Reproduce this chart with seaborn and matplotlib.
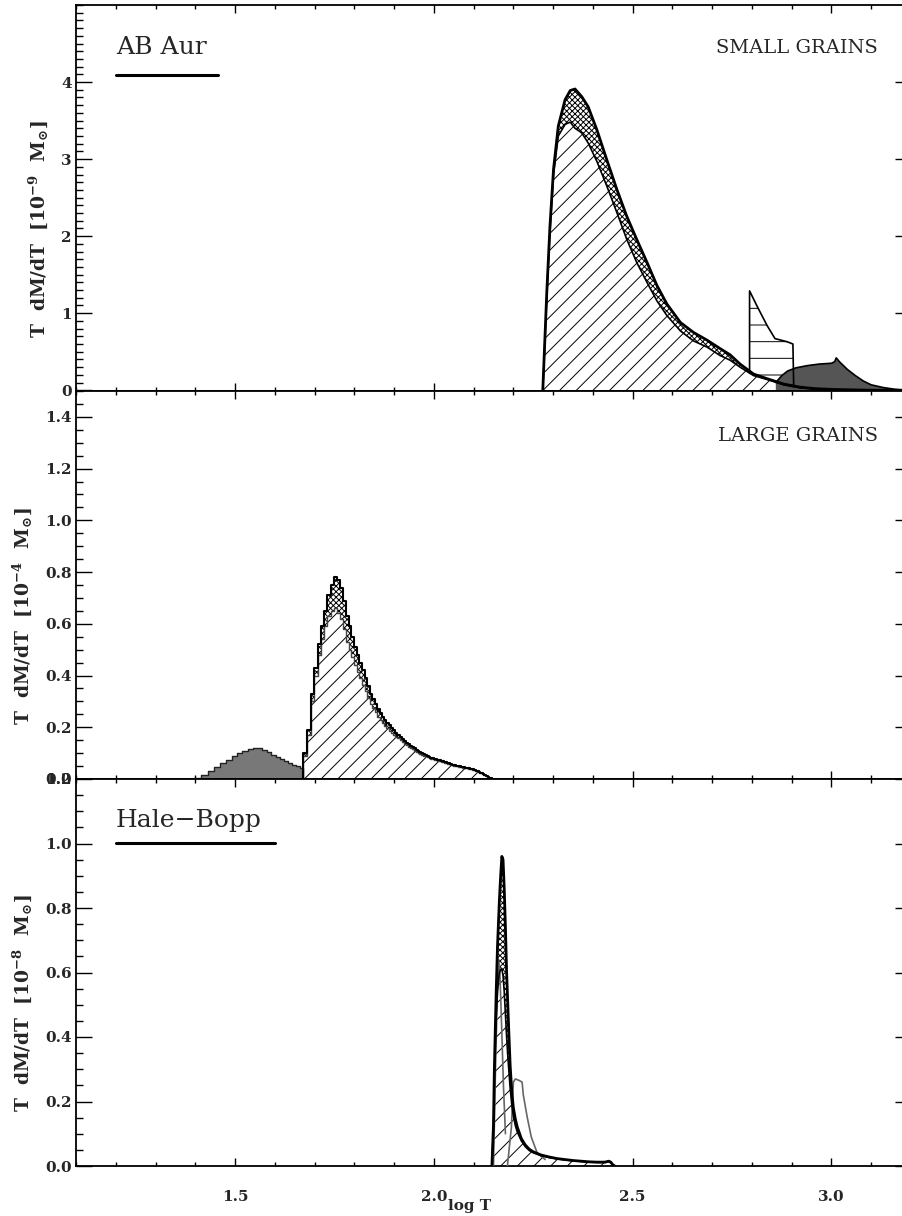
import numpy as np
import matplotlib
matplotlib.use("Agg")
import matplotlib.pyplot as plt
from matplotlib.ticker import MultipleLocator, FixedLocator, NullFormatter
import seaborn as sns

sns.set_theme(style="ticks")
plt.rcParams['font.family'] = ['DejaVu Serif']
plt.rcParams['mathtext.fontset'] = 'dejavuserif'
plt.rcParams['font.weight'] = 'bold'
plt.rcParams['hatch.linewidth'] = 0.7
plt.rcParams['axes.linewidth'] = 1.3

# ---------------- data: AB Aur, small grains (units 1e-9 Msun) ----------------
small_x = [2.274, 2.284, 2.292, 2.301, 2.313, 2.330, 2.343, 2.355, 2.372, 2.388,
           2.410, 2.435, 2.460, 2.485, 2.510, 2.536, 2.561, 2.586, 2.620, 2.653,
           2.687, 2.720, 2.745, 2.770, 2.804, 2.838, 2.880, 2.921, 2.960, 3.005,
           3.050, 3.100, 3.150, 3.200]
small_total = [0.0, 1.27, 2.13, 2.87, 3.43, 3.77, 3.89, 3.91, 3.81, 3.68,
               3.38, 2.99, 2.61, 2.26, 1.96, 1.66, 1.36, 1.12, 0.88, 0.75,
               0.65, 0.54, 0.46, 0.34, 0.21, 0.15, 0.08, 0.04, 0.02, 0.01,
               0.005, 0.0, 0.0, 0.0]
small_inner = [0.0, 1.20, 2.05, 2.80, 3.30, 3.45, 3.48, 3.40, 3.34, 3.21,
               2.97, 2.65, 2.31, 1.96, 1.66, 1.40, 1.16, 0.97, 0.77, 0.64,
               0.56, 0.45, 0.39, 0.30, 0.19, 0.14, 0.07, 0.03, 0.015, 0.008,
               0.004, 0.0, 0.0, 0.0]
hband_x = [2.794, 2.812, 2.838, 2.858, 2.888, 2.903, 2.905]
hband_top = [1.29, 1.10, 0.84, 0.67, 0.63, 0.60, 0.05]
hband_bottom = [0.22, 0.19, 0.15, 0.12, 0.08, 0.06, 0.05]
dark_x = [2.860, 2.875, 2.890, 2.910, 2.940, 2.970, 3.000, 3.008, 3.012, 3.020,
          3.040, 3.060, 3.080, 3.100, 3.130, 3.160, 3.190]
dark_top = [0.10, 0.19, 0.25, 0.29, 0.32, 0.34, 0.35, 0.37, 0.42, 0.37,
            0.27, 0.19, 0.12, 0.07, 0.035, 0.012, 0.0]

# ---------------- data: AB Aur, large grains (units 1e-4 Msun), 1 K bins ----------------
large_gray_T0 = 25
large_gray = [0.004, 0.016, 0.030, 0.045, 0.060, 0.075, 0.088, 0.100, 0.110, 0.117,
              0.121, 0.120, 0.113, 0.104, 0.094, 0.085, 0.076, 0.068, 0.061, 0.055,
              0.049, 0.044]
large_T0 = 47
large_total = [0.10, 0.19, 0.33, 0.43, 0.52, 0.59, 0.65, 0.71, 0.75, 0.78,
               0.77, 0.74, 0.69, 0.63, 0.59, 0.55, 0.51, 0.48, 0.45, 0.42,
               0.39, 0.36, 0.33, 0.31, 0.29, 0.27, 0.255, 0.24, 0.228, 0.217,
               0.207, 0.197, 0.188, 0.179, 0.171, 0.163, 0.155, 0.148, 0.141, 0.135,
               0.129, 0.123, 0.118, 0.113, 0.108, 0.104, 0.100, 0.096, 0.092, 0.089,
               0.086, 0.083, 0.080, 0.078, 0.076, 0.074, 0.072, 0.070, 0.068, 0.066,
               0.064, 0.062, 0.060, 0.058, 0.056, 0.055, 0.053, 0.052, 0.050, 0.049,
               0.048, 0.046, 0.045, 0.044, 0.043, 0.042, 0.040, 0.039, 0.037, 0.035,
               0.033, 0.031, 0.029, 0.027, 0.025, 0.022, 0.019, 0.016, 0.013, 0.010,
               0.008, 0.005, 0.003, 0.001]
large_inner = [0.09, 0.17, 0.30, 0.40, 0.48, 0.54, 0.59, 0.63, 0.65, 0.66,
               0.64, 0.62, 0.58, 0.53, 0.50, 0.47, 0.44, 0.415, 0.39, 0.365,
               0.34, 0.315, 0.29, 0.275, 0.258, 0.241, 0.228, 0.215, 0.205, 0.196,
               0.187, 0.179, 0.171, 0.164, 0.157, 0.150, 0.143, 0.137, 0.131, 0.125,
               0.120, 0.115, 0.110, 0.106, 0.101, 0.098, 0.094, 0.090, 0.087, 0.084,
               0.081, 0.078, 0.076, 0.074, 0.072, 0.070, 0.068, 0.066, 0.064, 0.062,
               0.060, 0.059, 0.057, 0.055, 0.053, 0.052, 0.050, 0.049, 0.048, 0.046,
               0.045, 0.044, 0.043, 0.042, 0.041, 0.040, 0.038, 0.037, 0.035, 0.033,
               0.031, 0.029, 0.027, 0.025, 0.023, 0.020, 0.017, 0.014, 0.011, 0.008,
               0.006, 0.004, 0.002, 0.000]

# ---------------- data: Hale-Bopp (units 1e-8 Msun) ----------------
hb_x = [2.146, 2.150, 2.152, 2.155, 2.157, 2.160, 2.163, 2.165, 2.168, 2.171,
        2.174, 2.177, 2.180, 2.183, 2.186, 2.189, 2.192, 2.196, 2.200, 2.205,
        2.210, 2.220, 2.230, 2.240, 2.250, 2.270, 2.290, 2.310, 2.330, 2.350,
        2.370, 2.390, 2.410, 2.430, 2.440, 2.445, 2.450, 2.455]
hb_total = [0.0, 0.13, 0.29, 0.45, 0.55, 0.68, 0.77, 0.83, 0.90, 0.96,
            0.95, 0.86, 0.74, 0.60, 0.50, 0.40, 0.31, 0.23, 0.18, 0.145,
            0.12, 0.085, 0.065, 0.052, 0.044, 0.034, 0.028, 0.023, 0.020, 0.017,
            0.015, 0.013, 0.012, 0.012, 0.015, 0.012, 0.004, 0.0]
hb_inner = [0.0, 0.12, 0.27, 0.40, 0.47, 0.54, 0.58, 0.60, 0.61, 0.61,
            0.59, 0.54, 0.47, 0.40, 0.34, 0.29, 0.24, 0.19, 0.155, 0.125,
            0.105, 0.078, 0.060, 0.048, 0.041, 0.032, 0.026, 0.022, 0.019, 0.016,
            0.014, 0.012, 0.011, 0.011, 0.013, 0.010, 0.003, 0.0]
hb_gray1_x = [2.150, 2.155, 2.160, 2.163, 2.166, 2.170, 2.175, 2.180]
hb_gray1 = [0.0, 0.30, 0.55, 0.64, 0.60, 0.45, 0.25, 0.10]
hb_gray2_x = [2.185, 2.195, 2.200, 2.205, 2.215, 2.222, 2.225, 2.235, 2.245, 2.260, 2.280]
hb_gray2 = [0.0, 0.12, 0.26, 0.27, 0.265, 0.26, 0.22, 0.15, 0.09, 0.04, 0.02]

x_major = [1.5, 2.0, 2.5, 3.0]

# ---------------- figure ----------------
fig = plt.figure(figsize=(9.03, 12.16), dpi=100)
L = 76 / 903
W = 835 / 903
ax1 = fig.add_axes([L, 1 - 391 / 1216, W, 386 / 1216])
ax2 = fig.add_axes([L, 1 - 779 / 1216, W, 388 / 1216])
ax3 = fig.add_axes([L, 1 - 1166 / 1216, W, 387 / 1216])

HATCH_D = '//'
HATCH_X = 'xxxxxx'


def line(ax, x, y, **kw):
    sns.lineplot(x=x, y=y, ax=ax, estimator=None, sort=False, legend=False, **kw)


# Panel 1
ax1.fill_between(small_x, 0, small_inner, facecolor='white', edgecolor='black',
                 hatch=HATCH_D, linewidth=0, zorder=1)
ax1.fill_between(small_x, small_inner, small_total, facecolor='white', edgecolor='black',
                 hatch=HATCH_X, linewidth=0, zorder=1)
ax1.fill_between(hband_x, hband_bottom, hband_top, facecolor='white', edgecolor='black',
                 hatch='-', linewidth=0, zorder=2)
line(ax1, [hband_x[0]] + hband_x, [hband_bottom[0]] + hband_top, color='black', lw=1.2, zorder=4)
ax1.fill_between(dark_x, 0, dark_top, facecolor='#555555', edgecolor='none', zorder=3)
line(ax1, dark_x, dark_top, color='black', lw=1.2, zorder=4)
line(ax1, small_x, small_inner, color='black', lw=1.2, zorder=4)
line(ax1, small_x, small_total, color='black', lw=2.0, zorder=5)


# Panel 2 (step histograms on 1 K bins)
def steps(T0, vals):
    edges = np.log10(np.arange(T0, T0 + len(vals) + 1))
    ext = np.append(vals, vals[-1])
    xs = np.r_[edges[0], edges, edges[-1]]
    ys = np.r_[0, ext, 0]
    return edges, ext, xs, ys


ge, gext, gxs, gys = steps(large_gray_T0, large_gray)
ax2.fill_between(ge, 0, gext, step='post', facecolor='#787878', edgecolor='none', zorder=2)
line(ax2, gxs, gys, color='#222222', lw=1.0, drawstyle='steps-post', zorder=4)

me, iext, ixs, iys = steps(large_T0, large_inner)
_, text_, txs, tys = steps(large_T0, large_total)
ax2.fill_between(me, 0, iext, step='post', facecolor='white', edgecolor='black',
                 hatch=HATCH_D, linewidth=0, zorder=1)
ax2.fill_between(me, iext, text_, step='post', facecolor='white', edgecolor='black',
                 hatch=HATCH_X, linewidth=0, zorder=1)
line(ax2, ixs, iys, color='#444444', lw=1.0, drawstyle='steps-post', zorder=4)
line(ax2, txs, tys, color='black', lw=1.5, drawstyle='steps-post', zorder=5)

# Panel 3
ax3.fill_between(hb_x, 0, hb_inner, facecolor='white', edgecolor='black',
                 hatch=HATCH_D, linewidth=0, zorder=1)
ax3.fill_between(hb_x, hb_inner, hb_total, facecolor='white', edgecolor='black',
                 hatch=HATCH_X, linewidth=0, zorder=1)
line(ax3, hb_gray1_x, hb_gray1, color='#666666', lw=1.2, zorder=3)
line(ax3, hb_gray2_x, hb_gray2, color='#666666', lw=1.2, zorder=3)
line(ax3, hb_x, hb_inner, color='black', lw=1.2, zorder=4)
line(ax3, hb_x, hb_total, color='black', lw=2.0, zorder=5)

# axes styling
ylabels = [r"T  dM/dT  [10$^{\mathbf{-9}}$  M$_{\odot}$]",
           r"T  dM/dT  [10$^{\mathbf{-4}}$  M$_{\odot}$]",
           r"T  dM/dT  [10$^{\mathbf{-8}}$  M$_{\odot}$]"]
ylims = [(-0.01, 5.0), (0, 1.5), (0, 1.2)]
ymaj = [[0, 1, 2, 3, 4], list(np.round(np.arange(0, 1.41, 0.2), 1)),
        list(np.round(np.arange(0, 1.21, 0.2), 1))]
ymin_step = [0.1, 0.05, 0.05]
yfmt = ['{:.0f}', '{:.1f}', '{:.1f}']

for ax, yl, lim, maj, mstep, fmt in zip([ax1, ax2, ax3], ylabels, ylims, ymaj, ymin_step, yfmt):
    ax.set_xlim(1.1, 3.2)
    ax.set_ylim(*lim)
    ax.xaxis.set_major_locator(FixedLocator(x_major))
    ax.xaxis.set_minor_locator(MultipleLocator(0.1))
    ax.yaxis.set_major_locator(FixedLocator(maj))
    ax.set_yticklabels([fmt.format(v) for v in maj])
    ax.yaxis.set_minor_locator(MultipleLocator(mstep))
    ax.tick_params(axis='x', which='major', direction='in', length=5.5, width=1.0,
                   top=True, bottom=True, pad=17, labelsize=11, color='black')
    ax.tick_params(axis='x', which='minor', direction='in', length=2.8, width=1.0,
                   top=True, bottom=True, color='black')
    ax.tick_params(axis='y', which='major', direction='in', length=11.5, width=1.0,
                   left=True, right=True, pad=3, labelsize=11, color='black')
    ax.tick_params(axis='y', which='minor', direction='in', length=5, width=1.0,
                   left=True, right=True, color='black')
    ax.set_ylabel(yl, fontsize=13.5, fontweight='bold', labelpad=8, y=0.42)
    ax.set_xlabel('')
    for s in ax.spines.values():
        s.set_color('black')
    ax.set_facecolor('white')

ax1.xaxis.set_major_formatter(NullFormatter())
ax2.xaxis.set_major_formatter(NullFormatter())
ax3.set_xticks(x_major)
ax3.set_xticklabels(['1.5', '2.0', '2.5', '3.0'])

# annotations
ax1.text(0.048, 0.89, 'AB Aur', transform=ax1.transAxes, fontsize=18,
         fontweight='normal', ha='left', va='center')
ax1.plot([0.048, 0.170], [0.819, 0.819], transform=ax1.transAxes, color='black', lw=2.2)
ax1.text(0.960, 0.889, 'SMALL GRAINS', transform=ax1.transAxes, fontsize=14,
         fontweight='normal', ha='right', va='center')
ax2.text(0.960, 0.884, 'LARGE GRAINS', transform=ax2.transAxes, fontsize=14,
         fontweight='normal', ha='right', va='center')
ax3.text(0.048, 0.894, 'Hale\u2212Bopp', transform=ax3.transAxes, fontsize=18,
         fontweight='normal', ha='left', va='center')
ax3.plot([0.048, 0.238], [0.835, 0.835], transform=ax3.transAxes, color='black', lw=2.2)

fig.text(470 / 903, 1 - 1206 / 1216, 'log T', ha='center', va='center',
         fontsize=11, fontweight='bold')

fig.savefig('out.png', dpi=100, facecolor='white')
